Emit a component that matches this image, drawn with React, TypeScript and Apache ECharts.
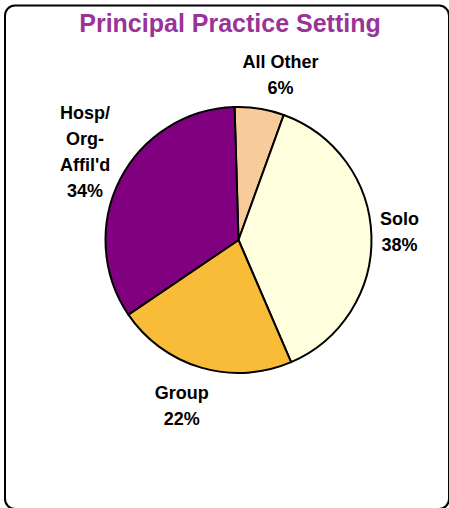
import React, { useEffect, useRef } from "react";
import * as echarts from "echarts";

const categories = ["All Other", "Solo", "Group", "Hosp/\nOrg-\nAffil'd"];
const values = [6, 38, 22, 34];
const colors = ["#F8CC9A", "#FFFFDD", "#F9BC38", "#800080"];
const titleText = "Principal Practice Setting";

// layout / style config
const CX = 238.5;
const CY = 240;
const R = 133;
const START_FROM_TOP = -1.7; // degrees, clockwise from 12 o'clock
const labelOffsets: [number, number][] = [
  [21, -34],
  [28, -4],
  [-19.5, 38],
  [-35, -27],
];

export default function App() {
  const ref = useRef<HTMLDivElement>(null);
  useEffect(() => {
    if (!ref.current) return;
    const chart = echarts.init(ref.current, undefined, { renderer: "svg" });
    const total = values.reduce((a, b) => a + b, 0);
    chart.setOption({
      animation: false,
      backgroundColor: "#ffffff",
      graphic: [
        {
          type: "rect",
          z: -1,
          shape: { x: 5, y: 5.5, width: 444, height: 503.5, r: 10 },
          style: { fill: "none", stroke: "#000", lineWidth: 2 },
        },
        {
          type: "text",
          x: 230,
          y: 23,
          style: {
            text: titleText,
            fill: "#993399",
            font: "bold 25px 'Liberation Sans', Arial, sans-serif",
            align: "center",
            verticalAlign: "middle",
          },
        },
      ],
      series: [
        {
          type: "pie",
          center: [CX, CY],
          radius: R,
          startAngle: 90 - START_FROM_TOP,
          clockwise: true,
          avoidLabelOverlap: false,
          data: categories.map((c, i) => ({
            name: c,
            value: values[i],
            itemStyle: { color: colors[i] },
          })),
          itemStyle: { borderColor: "#000", borderWidth: 2 },
          emphasis: { disabled: true },
          labelLine: { show: false },
          label: {
            show: true,
            position: "outside",
            formatter: (p: any) => `${p.name}\n${p.value}%`,
            color: "#000",
            fontFamily: "'Liberation Sans', Arial, sans-serif",
            fontWeight: "bold",
            fontSize: 18,
            lineHeight: 26,
            align: "center",
          },
          labelLayout: (params: any) => {
            const i = params.dataIndex;
            let before = 0;
            for (let j = 0; j < i; j++) before += values[j];
            const mid = START_FROM_TOP + ((before + values[i] / 2) / total) * 360;
            const a = (mid * Math.PI) / 180;
            return {
              x: CX + R * Math.sin(a) + labelOffsets[i][0],
              y: CY - R * Math.cos(a) + labelOffsets[i][1],
              align: "center",
              verticalAlign: "middle",
            };
          },
        },
      ],
    });
    return () => chart.dispose();
  }, []);
  return (
    <div
      ref={ref}
      style={{ position: "absolute", left: 0, top: 0, width: 449, height: 508 }}
    />
  );
}
